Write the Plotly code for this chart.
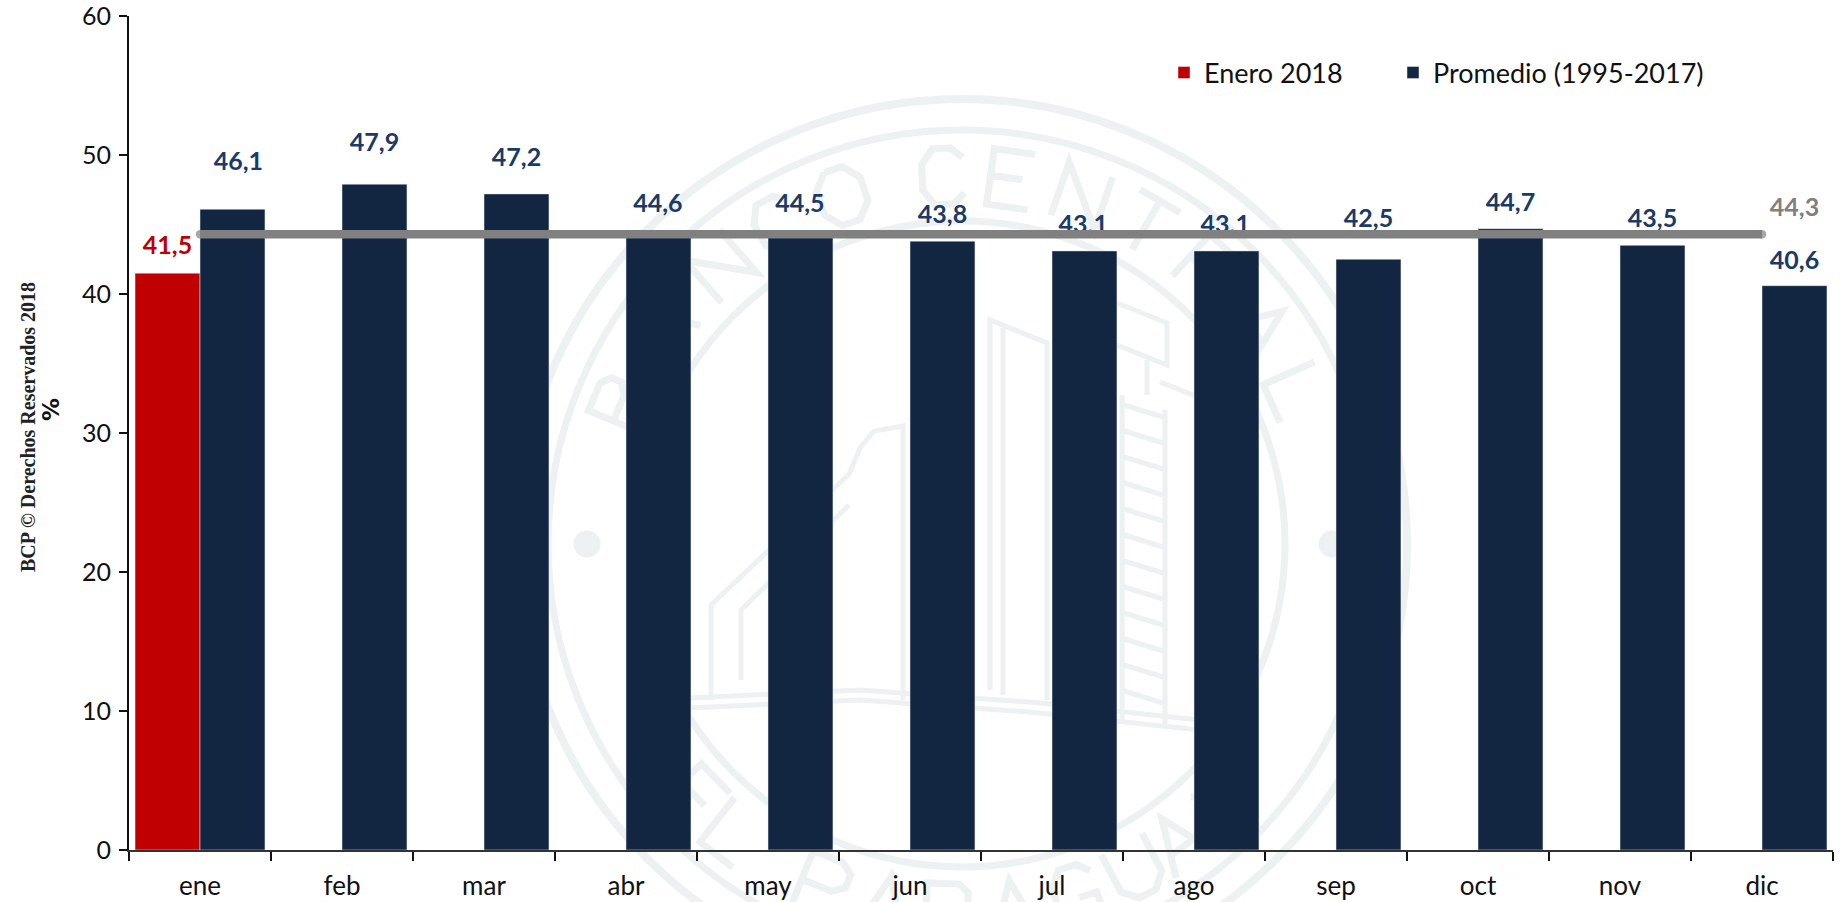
import math
import plotly.graph_objects as go

MONTHS = ["ene", "feb", "mar", "abr", "may", "jun", "jul", "ago", "sep", "oct", "nov", "dic"]
ENERO_2018 = [41.5]
PROMEDIO = [46.1, 47.9, 47.2, 44.6, 44.5, 43.8, 43.1, 43.1, 42.5, 44.7, 43.5, 40.6]
PROMEDIO_GENERAL = [44.3] * 12
PROMEDIO_LABEL_Y = [49.35, 50.75, 49.65, 46.35, 46.35, 45.55, 44.85, 44.85, 45.25, 46.45, 45.25, 42.25]
PROMEDIO_LABEL_DX = [0.27, 0.229, 0.229, 0.225, 0.225, 0.229, 0.22, 0.22, 0.229, 0.229, 0.229, 0.229]
ENERO_LABEL_Y = [43.3]
GENERAL_LABEL_Y = [46.05]

NAVY, RED, GRAY, LABEL_BLUE = "#122642", "#C00000", "#808080", "#1B3A68"
FONT = "Lato"
WM = "#EDF1F1"

L, R, T, B = 129, 1833, 16, 850
def px(x, y):
    return f"{(x - L) / (R - L):.5f},{(B - y) / (B - T):.5f}"

def poly(points, close=False):
    s = "M" + " L".join(px(*p) for p in points)
    return s + (" Z" if close else "")

def ring(cx, cy, r, w):
    return dict(type="circle", xref="paper", yref="paper", layer="below",
                x0=(cx - r - L) / (R - L), x1=(cx + r - L) / (R - L),
                y0=(B - cy - r) / (B - T), y1=(B - cy + r) / (B - T),
                line=dict(color=WM, width=w))

def dot(cx, cy, r):
    d = ring(cx, cy, r, 0)
    d["fillcolor"] = WM
    return d

GLYPHS = {
    "B": [[(0, 0), (0, 1), (.65, 1), (.85, .85), (.85, .65), (.6, .52), (0, .52)], [(.6, .52), (.95, .38), (.95, .15), (.7, 0), (0, 0)]],
    "A": [[(0, 0), (.5, 1), (1, 0)], [(.2, .38), (.8, .38)]],
    "N": [[(0, 0), (0, 1), (1, 0), (1, 1)]],
    "C": [[(.95, .82), (.7, 1), (.3, 1), (.05, .72), (.05, .28), (.3, 0), (.7, 0), (.95, .18)]],
    "O": [[(.3, 1), (.7, 1), (1, .72), (1, .28), (.7, 0), (.3, 0), (0, .28), (0, .72), (.3, 1)]],
    "E": [[(.9, 1), (0, 1), (0, 0), (.9, 0)], [(0, .52), (.7, .52)]],
    "T": [[(0, 1), (1, 1)], [(.5, 1), (.5, 0)]],
    "R": [[(0, 0), (0, 1), (.7, 1), (.9, .85), (.9, .62), (.7, .47), (0, .47)], [(.5, .47), (1, 0)]],
    "L": [[(0, 1), (0, 0), (.9, 0)]],
    "D": [[(0, 0), (0, 1), (.55, 1), (.95, .72), (.95, .28), (.55, 0), (0, 0)]],
    "P": [[(0, 0), (0, 1), (.7, 1), (.95, .85), (.95, .6), (.7, .45), (0, .45)]],
    "G": [[(.95, .82), (.7, 1), (.3, 1), (.05, .72), (.05, .28), (.3, 0), (.7, 0), (.95, .15), (.95, .42), (.55, .42)]],
    "U": [[(0, 1), (0, .25), (.3, 0), (.7, 0), (1, .25), (1, 1)]],
    "Y": [[(0, 1), (.5, .48), (1, 1)], [(.5, .48), (.5, 0)]],
}
CX, CY = 962, 544
TOP_TEXT = list(zip("BANCOCENTRAL", [157, 144, 131, 120, 109, 93, 82, 71, 60, 48, 36, 24]))
BOTTOM_TEXT = list(zip("DELPARAGUAY", [216, 224, 232, 248, 258, 268, 278, 288, 298, 306, 316]))

def letter_path(ch, deg, top):
    th = math.radians(deg)
    c, s = math.cos(th), math.sin(th)
    if top:
        u, r = (c, -s), (s, c)
    else:
        u, r = (-c, s), (-s, -c)
    ctr = (CX + 368 * c, CY - 368 * s)
    w, h = 46, 56
    out = []
    for stroke in GLYPHS[ch]:
        pts = [(ctr[0] + (lx - .5) * w * r[0] + (ly - .5) * h * u[0],
                ctr[1] + (lx - .5) * w * r[1] + (ly - .5) * h * u[1]) for lx, ly in stroke]
        out.append(poly(pts))
    return " ".join(out)

letters = " ".join([letter_path(c, a, True) for c, a in TOP_TEXT] + [letter_path(c, a, False) for c, a in BOTTOM_TEXT])

building = [
    [(690, 708), (860, 700), (1030, 712), (1200, 730)],
    [(690, 698), (860, 690), (1030, 702), (1200, 720)],
    [(711, 700), (711, 605), (849, 474), (860, 448), (874, 431), (903, 426), (903, 700)],
    [(741, 680), (741, 610), (849, 505)],
    [(990, 690), (990, 320), (1047, 343), (1047, 700)],
    [(1003, 695), (1003, 328)],
    [(1117, 303), (1167, 323), (1167, 365), (1117, 345)],
    [(1147, 360), (1147, 395)],
    [(1122, 395), (1122, 722)], [(1165, 410), (1165, 725)],
    [(1160, 382), (1198, 397), (1198, 728)],
]
rungs = [[(1124, y), (1163, y + 12)] for y in range(405, 715, 26)]
wm_path = " ".join(poly(p) for p in building + rungs)

shapes = [ring(CX, CY, 445, 8), ring(CX, CY, 414, 7), ring(CX, CY, 323, 7),
          dot(587, 544, 13.5), dot(1332, 544, 13.5),
          dict(type="path", xref="paper", yref="paper", layer="below", path=letters, line=dict(color=WM, width=7)),
          dict(type="path", xref="paper", yref="paper", layer="below", path=wm_path, line=dict(color=WM, width=5))]

idx = list(range(12))
fig = go.Figure()
fig.add_bar(x=MONTHS[:1], y=ENERO_2018, name="Enero 2018", marker_color=RED, hoverinfo="skip", legend="legend")
fig.add_bar(x=MONTHS, y=PROMEDIO, name="Promedio (1995-2017)", marker_color=NAVY, hoverinfo="skip", legend="legend2")
label_style = dict(mode="text", showlegend=False, textposition="middle center", hoverinfo="skip", xaxis="x2")
fig.add_scatter(x=[i + d for i, d in zip(idx, PROMEDIO_LABEL_DX)], y=PROMEDIO_LABEL_Y,
                text=[f"{v:.1f}".replace(".", ",") for v in PROMEDIO],
                textfont=dict(family=FONT, size=25, color=LABEL_BLUE, weight=700), **label_style)
fig.add_scatter(x=[-0.229], y=ENERO_LABEL_Y, text=[f"{v:.1f}".replace(".", ",") for v in ENERO_2018],
                textfont=dict(family=FONT, size=25, color=RED, weight=700), **label_style)
fig.add_scatter(x=idx, y=PROMEDIO_GENERAL, mode="lines+markers", showlegend=False, hoverinfo="skip", xaxis="x2",
                line=dict(color=GRAY, width=8.5),
                marker=dict(color=GRAY, size=[8.5] + [0] * 10 + [8.5], line_width=0))
fig.add_scatter(x=[11.229], y=GENERAL_LABEL_Y, text=[f"{PROMEDIO_GENERAL[0]:.1f}".replace(".", ",")],
                textfont=dict(family=FONT, size=25, color=GRAY, weight=700), **label_style)

legend_common = dict(y=(B - 73) / (B - T), xanchor="left", yanchor="middle", bgcolor="rgba(0,0,0,0)",
                     font=dict(size=27, family=FONT, color="#111111"), itemwidth=30)
fig.update_layout(
    width=1843, height=902, margin=dict(l=L, r=1843 - R, t=T, b=902 - B, autoexpand=False),
    paper_bgcolor="white", plot_bgcolor="rgba(0,0,0,0)", barmode="group", bargap=0.085, bargroupgap=0,
    font=dict(family=FONT, color="#111111"), shapes=shapes,
    legend=dict(x=(1164 - L) / (R - L), **legend_common),
    legend2=dict(x=(1393 - L) / (R - L), **legend_common),
    xaxis2=dict(overlaying="x", range=[-0.5, 11.5], visible=False, type="linear"),
    annotations=[
        dict(text="<b>BCP © Derechos Reservados 2018</b>", xref="paper", yref="paper", xanchor="center", yanchor="middle",
             x=(28 - L) / (R - L), y=(B - 427) / (B - T), textangle=-90, showarrow=False,
             font=dict(family="Liberation Serif", size=20, color="#222222")),
        dict(text="<b>%</b>", xref="paper", yref="paper", x=(51 - L) / (R - L), y=(B - 410) / (B - T),
             xanchor="center", yanchor="middle",
             textangle=-90, showarrow=False, font=dict(family="DejaVu Sans", size=23, color="#111111")),
    ],
)
fig.update_xaxes(selector=dict(overlaying=None), type="category", categoryorder="array", categoryarray=MONTHS, range=[-0.5, 11.5],
                 tickson="boundaries", ticks="outside", ticklen=9, tickwidth=1.5, tickcolor="#111111",
                 showline=True, linecolor="#333333", linewidth=1.5, showgrid=False, zeroline=False,
                 tickfont=dict(family=FONT, size=26, color="#111111"), ticklabelstandoff=12)
fig.update_yaxes(range=[0, 60], tickvals=[0, 10, 20, 30, 40, 50, 60], ticks="outside", ticklen=8, tickwidth=1.5,
                 tickcolor="#111111", showline=True, linecolor="#111111", linewidth=2, showgrid=False, zeroline=False,
                 ticklabeloverflow="allow", tickfont=dict(family=FONT, size=25, color="#111111"), ticklabelstandoff=3)

fig.write_html("out.html", config=dict(displayModeBar=False), post_script="document.body.style.margin='0';document.body.style.overflow='hidden';")
